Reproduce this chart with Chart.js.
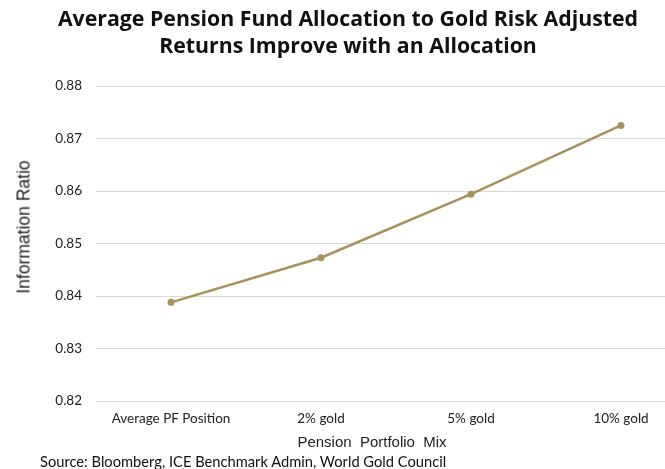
<!DOCTYPE html>
<html>
<head>
<meta charset="utf-8">
<script src="https://cdn.jsdelivr.net/npm/chart.js@4"></script>
<style>
html,body{margin:0;padding:0;overflow:hidden;background:#fff;width:665px;height:469px;}
#wrap{position:absolute;left:0;top:0;width:714px;height:469px;}
.lbl{position:absolute;white-space:pre;color:#222;}
#xt{font-family:"Liberation Sans",Arial,sans-serif;font-size:15px;left:372px;top:441px;transform:translate(-50%,-50%);}
#yt{font-family:"Liberation Sans",Arial,sans-serif;font-size:17.5px;left:24px;top:227px;transform:translate(-50%,-50%) rotate(-90deg);}
#src{font-family:Lato,sans-serif;font-size:14.7px;left:40px;top:461px;transform:translateY(-50%);color:#111;}
</style>
</head>
<body>
<div id="wrap"><canvas id="c" width="714" height="469"></canvas></div>
<div class="lbl" id="xt">Pension  Portfolio  Mix</div>
<div class="lbl" id="yt">Information Ratio</div>
<div class="lbl" id="src">Source: Bloomberg, ICE Benchmark Admin, World Gold Council</div>
<script>
const titleLines = ["Average Pension Fund Allocation to Gold Risk Adjusted", "Returns Improve with an Allocation"];
const categories = ["Average PF Position", "2% gold", "5% gold", "10% gold"];
const informationRatio = [0.8388, 0.8473, 0.8594, 0.8725];
const yMin = 0.82, yMax = 0.88, yStep = 0.01;

new Chart(document.getElementById('c'), {
  type: 'line',
  data: {
    labels: categories,
    datasets: [{
      data: informationRatio,
      borderColor: '#A8915A',
      backgroundColor: '#A8915A',
      borderWidth: 2.5,
      pointRadius: 3.5,
      pointBackgroundColor: '#A8915A',
      pointBorderWidth: 0,
      tension: 0
    }]
  },
  options: {
    responsive: false,
    animation: false,
    devicePixelRatio: 1,
    layout: {padding: {left: 0, right: 18, top: 0, bottom: 0}},
    plugins: {
      legend: {display: false},
      tooltip: {enabled: false},
      title: {
        display: true,
        text: titleLines,
        color: '#111',
        font: {family: '"Open Sans"', size: 21.3, weight: 'bold', lineHeight: 1.27},
        padding: {top: 6, bottom: 26}
      }
    },
    scales: {
      x: {
        type: 'category',
        offset: true,
        grid: {display: false, drawTicks: false},
        border: {display: false},
        ticks: {color: '#222', font: {family: 'Lato', size: 13.5}, padding: 10, maxRotation: 0},
        afterFit: (s) => { s.height = 68; }
      },
      y: {
        min: yMin, max: yMax,
        grid: {color: '#d9d9d9', lineWidth: 1, drawTicks: false},
        border: {display: false},
        ticks: {stepSize: yStep, color: '#222', font: {family: 'Lato', size: 13.5}, padding: 14,
          callback: (v) => v.toFixed(2)},
        afterFit: (s) => { s.width = 96; }
      }
    }
  }
});
</script>
</body>
</html>
